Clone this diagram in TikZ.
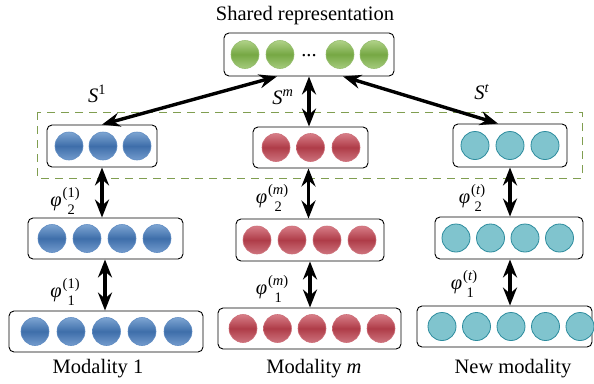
\documentclass[tikz,border=0pt]{standalone}
\usepackage{fix-cm}
\usepackage{fontspec}
\setmainfont{Liberation Serif}
\usetikzlibrary{arrows.meta}
\definecolor{blueT}{RGB}{125,165,210}
\definecolor{blueM}{RGB}{62,110,170}
\definecolor{blueB}{RGB}{115,155,205}
\definecolor{blueE}{RGB}{95,140,195}
\definecolor{redT}{RGB}{215,125,135}
\definecolor{redM}{RGB}{175,60,72}
\definecolor{redB}{RGB}{205,115,125}
\definecolor{redE}{RGB}{205,110,120}
\definecolor{grnT}{RGB}{175,210,135}
\definecolor{grnM}{RGB}{118,168,68}
\definecolor{grnB}{RGB}{165,203,125}
\definecolor{grnE}{RGB}{150,190,110}
\definecolor{tealF}{RGB}{128,196,206}
\definecolor{tealE}{RGB}{45,140,158}
\definecolor{olive}{RGB}{128,158,80}
\newcommand{\phlab}[2]{\textit{φ}\kern1pt{\fontsize{14.5}{17}\selectfont\begin{tabular}{@{}c@{}}(#1)\\ #2\end{tabular}}}
\tikzset{
  lay/.style={draw=black, line width=0.9pt, rounded corners=5pt, fill=white, inner sep=0pt},
  bluec/.style={top color=blueT, bottom color=blueB, middle color=blueM, draw=blueE, line width=0.6pt},
  redc/.style={top color=redT, bottom color=redB, middle color=redM, draw=redE, line width=0.6pt},
  grnc/.style={top color=grnT, bottom color=grnB, middle color=grnM, draw=grnE, line width=0.6pt},
  tealc/.style={fill=tealF, draw=tealE, line width=0.8pt},
  dbl/.style={{Stealth[length=18pt,width=14pt,inset=6pt]}-{Stealth[length=18pt,width=14pt,inset=6pt]}, line width=3.4pt},
  frame/.style={draw=olive, line width=1pt, dash pattern=on 8pt off 6pt},
  lbl/.style={font=\fontsize{20.5}{24}\selectfont, inner sep=0pt},
}
\begin{document}
\begin{tikzpicture}[x=1pt,y=-1pt]
\useasboundingbox (0,0) rectangle (594,383);
% group frame
\draw[frame] (37,112) rectangle (582,178);
% boxes
\node[lay, minimum width=170pt, minimum height=43pt] (Sh) at (309,54.5) {};
\node[lay, minimum width=110pt, minimum height=42pt] (Lt) at (102,146) {};
\node[lay, minimum width=115pt, minimum height=41pt] (Mt) at (310.5,147.5) {};
\node[lay, minimum width=114pt, minimum height=43pt] (Rt) at (510,145.5) {};
\node[lay, minimum width=155pt, minimum height=41pt] (L2) at (105.5,238.5) {};
\node[lay, minimum width=148pt, minimum height=42pt] (M2) at (310,240) {};
\node[lay, minimum width=148pt, minimum height=42pt] (R2) at (509,238) {};
\node[lay, minimum width=194pt, minimum height=41pt] (L3) at (106,331.5) {};
\node[lay, minimum width=183pt, minimum height=41pt] (M3) at (309.5,328.5) {};
\node[lay, minimum width=175pt, minimum height=41pt] (R3) at (504.5,326.5) {};
% circles
\foreach \cx in {245,280,340,374} \shadedraw[grnc] (\cx,54.5) circle[radius=14pt];
\node[lbl] (dots) at (309,56) {...};
\foreach \cx in {69,103,137} \shadedraw[bluec] (\cx,146) circle[radius=14pt];
\foreach \cx in {276,310.5,346} \shadedraw[redc] (\cx,147.5) circle[radius=14pt];
\foreach \cx in {475,510,545} \draw[tealc] (\cx,145.5) circle[radius=14pt];
\foreach \cx in {52,87,122,157} \shadedraw[bluec] (\cx,238.5) circle[radius=14pt];
\foreach \cx in {257,292,327,362} \shadedraw[redc] (\cx,240) circle[radius=14pt];
\foreach \cx in {456,490.5,525,559.5} \draw[tealc] (\cx,238) circle[radius=14pt];
\foreach \cx in {35,71,106.5,142,178} \shadedraw[bluec] (\cx,331.5) circle[radius=14pt];
\foreach \cx in {243,277.5,312,346.5,381} \shadedraw[redc] (\cx,328.5) circle[radius=14pt];
\foreach \cx in {442,476.5,511,545.5,580} \draw[tealc] (\cx,326.5) circle[radius=14pt];
% connectors
\draw[dbl] ([xshift=-32pt]Sh.south) -- (Lt.north);
\draw[dbl] ([xshift=34pt]Sh.south) -- ([xshift=-12pt]Rt.north);
\draw[dbl] (Sh.south) -- (Sh.south |- Mt.north);
\draw[dbl] (Lt.south) -- (Lt.south |- L2.north);
\draw[dbl] ([xshift=-0.5pt]L2.south) -- ([xshift=-0.5pt]L2.south |- L3.north);
\draw[dbl] ([xshift=-2pt]Mt.south) -- ([xshift=-2pt]Mt.south |- M2.north);
\draw[dbl] (M2.south) -- (M2.south |- M3.north);
\draw[dbl] (Rt.south) -- (Rt.south |- R2.north);
\draw[dbl] ([xshift=1pt]R2.south) -- ([xshift=1pt]R2.south |- R3.north);
% texts
\node[lbl, anchor=base] (tSh) at (305,20) {Shared representation};
\node[lbl, anchor=base] (tM1) at (98,373) {Modality 1};
\node[lbl, anchor=base] (tMm) at (314,373) {Modality \textit{m}};
\node[lbl, anchor=base] (tNew) at (513,373) {New modality};
\node[lbl] (s1) at (97,94) {\textit{S}\textsuperscript{1}};
\node[lbl] (sm) at (283,97) {\textit{S}\textsuperscript{\textit{m}}};
\node[lbl] (st) at (482,92) {\textit{S}\textsuperscript{\textit{t}}};
\node[lbl] (p12) at (65,203) {\phlab{1}{2}};
\node[lbl] (p11) at (65,294) {\phlab{1}{1}};
\node[lbl] (pm2) at (272,200) {\phlab{\textit{m}}{2}};
\node[lbl] (pm1) at (272,291) {\phlab{\textit{m}}{1}};
\node[lbl] (pt2) at (472,200) {\phlab{\textit{t}}{2}};
\node[lbl] (pt1) at (464,286) {\phlab{\textit{t}}{1}};
\end{tikzpicture}
\end{document}
